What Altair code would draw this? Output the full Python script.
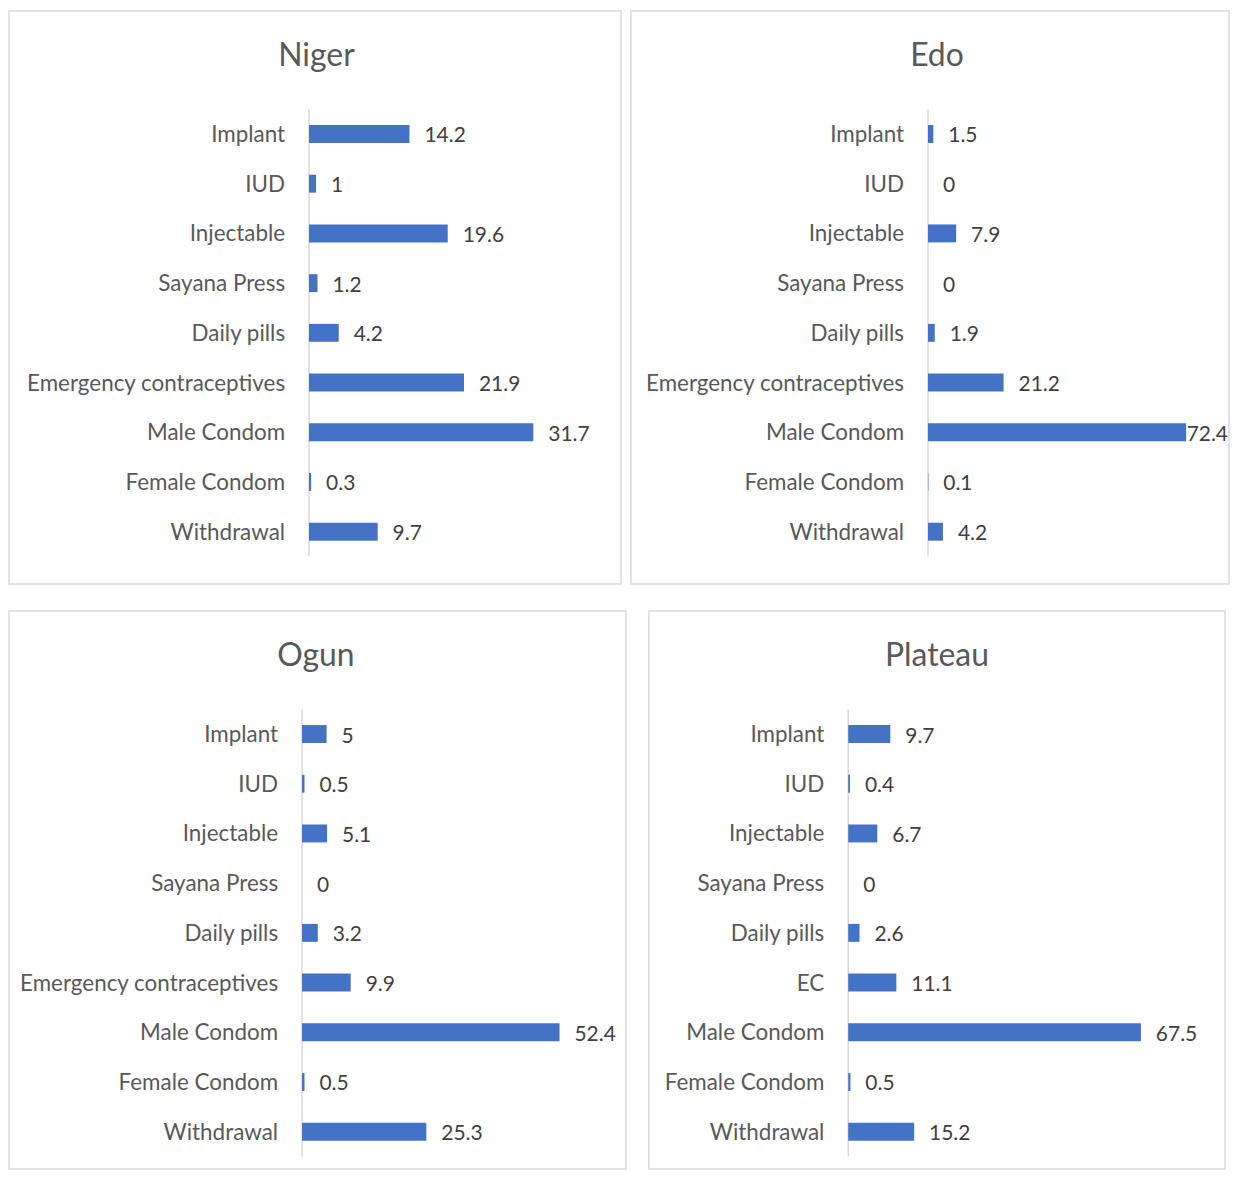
import altair as alt
import pandas as pd

# ---------------- data ----------------
categories = ["Implant", "IUD", "Injectable", "Sayana Press", "Daily pills",
              "Emergency contraceptives", "Male Condom", "Female Condom", "Withdrawal"]
categories_plateau = ["Implant", "IUD", "Injectable", "Sayana Press", "Daily pills",
                      "EC", "Male Condom", "Female Condom", "Withdrawal"]

niger = [14.2, 1, 19.6, 1.2, 4.2, 21.9, 31.7, 0.3, 9.7]
edo = [1.5, 0, 7.9, 0, 1.9, 21.2, 72.4, 0.1, 4.2]
ogun = [5, 0.5, 5.1, 0, 3.2, 9.9, 52.4, 0.5, 25.3]
plateau = [9.7, 0.4, 6.7, 0, 2.6, 11.1, 67.5, 0.5, 15.2]

# ---------------- style / layout ----------------
FONT = "Lato"
BLUE = "#4472C4"
LABEL_GRAY = "#595959"
VALUE_GRAY = "#404040"
LINE_GRAY = "#d9d9d9"
ROW0 = 123.5     # first row centre, px from panel top
STEP = 49.875    # row spacing, px


def panel(name, cats, vals, width, height, zero_px, px_per_unit, title_x):
    n = len(cats)
    df = pd.DataFrame({
        "category": cats,
        "value": vals,
        "idx": list(range(n)),
        "label": [f"{v:g}" for v in vals],
    })
    xdom = [-zero_px / px_per_unit, (width - zero_px) / px_per_unit]
    ydom = [-ROW0 / STEP, (height - ROW0) / STEP]
    xs = alt.Scale(domain=xdom, nice=False, zero=False, padding=0)
    ys = alt.Scale(domain=ydom, nice=False, zero=False, reverse=True, padding=0)
    Y = alt.Y("idx:Q", scale=ys, axis=None)
    base = alt.Chart(df).transform_calculate(zero="0", xmax=str(xdom[1]))

    rule = base.transform_aggregate(
        lo="min(idx)", hi="max(idx)"
    ).transform_calculate(
        lo="datum.lo - 0.5", hi="datum.hi + 0.5", zero="0"
    ).mark_rule(color=LINE_GRAY, strokeWidth=1.5).encode(
        x=alt.X("zero:Q", scale=xs, axis=None),
        y=alt.Y("lo:Q", scale=ys, axis=None),
        y2="hi:Q",
    )

    bars = base.mark_bar(orient="horizontal", size=18, color=BLUE).encode(
        x=alt.X("value:Q", scale=xs, axis=None), x2="zero:Q", y=Y
    )

    cat_text = base.mark_text(
        align="right", baseline="alphabetic", dx=-24, dy=8,
        font=FONT, fontSize=22.5, color=LABEL_GRAY
    ).encode(x=alt.X("zero:Q", scale=xs, axis=None), y=Y, text="category:N")

    fits = f"datum.value * {px_per_unit} + 60 <= {width - zero_px}"
    val_text = base.transform_filter(fits).mark_text(
        align="left", baseline="alphabetic", dx=15, dy=8.5,
        font=FONT, fontSize=21, color=VALUE_GRAY
    ).encode(x=alt.X("value:Q", scale=xs, axis=None), y=Y, text="label:N")
    val_text_clamped = base.transform_filter(f"!({fits})").mark_text(
        align="right", baseline="alphabetic", dx=-1, dy=8.5,
        font=FONT, fontSize=21, color=VALUE_GRAY
    ).encode(x=alt.X("xmax:Q", scale=xs, axis=None), y=Y, text="label:N")

    title = alt.Chart(pd.DataFrame({"t": [name]})).mark_text(
        align="center", baseline="alphabetic",
        font=FONT, fontSize=32, color=LABEL_GRAY
    ).encode(x=alt.value(title_x), y=alt.value(55.5), text="t:N")

    return alt.layer(rule, bars, cat_text, val_text, val_text_clamped, title).properties(
        width=width, height=height
    )


p_niger = panel("Niger", categories, niger, 614, 575, 301, 7.1, 308.5)
p_edo = panel("Edo", categories, edo, 600, 575, 298, 3.577, 307)
p_ogun = panel("Ogun", categories, ogun, 619, 560, 294, 4.93, 308)
p_plateau = panel("Plateau", categories_plateau, plateau, 578, 560, 200, 4.35, 289)

top = alt.hconcat(p_niger, p_edo, spacing=8)
bottom = alt.hconcat(p_ogun, p_plateau, spacing=21)

chart = alt.vconcat(top, bottom, spacing=25).properties(
    padding={"left": 0, "top": 0, "right": 0, "bottom": 0},
    background="white",
).configure_view(
    stroke=LINE_GRAY, strokeWidth=1.5
)

chart.save("out.html", embed_options={"renderer": "svg", "actions": False})
